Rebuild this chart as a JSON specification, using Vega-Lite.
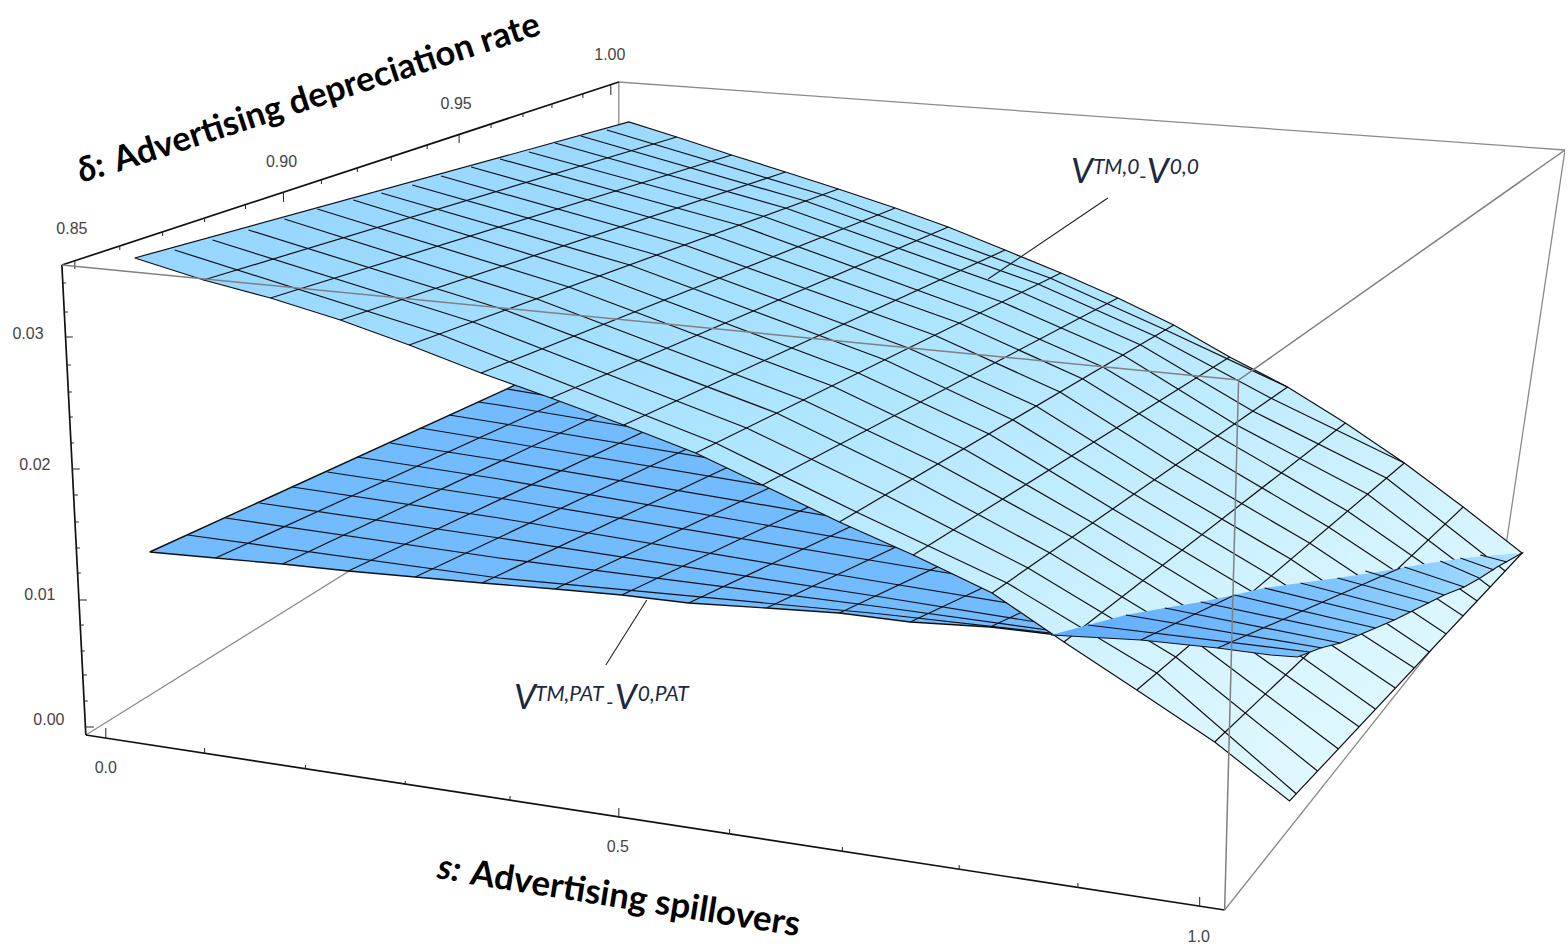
{"$schema":"https://vega.github.io/schema/vega-lite/v6.json","width":1568,"height":949,"autosize":{"type":"fit","contains":"padding"},"padding":0,"background":"white","config":{"view":{"stroke":null}},
"datasets":{
"backBox":[{"line":"a","k":0,"sx":86,"sy":735},{"line":"a","k":1,"sx":620,"sy":403},{"line":"a","k":2,"sx":1507,"sy":558},{"line":"a","k":3,"sx":1227,"sy":910},{"line":"b","k":0,"sx":620,"sy":403},{"line":"b","k":1,"sx":620,"sy":82},{"line":"b","k":2,"sx":1568,"sy":150},{"line":"b","k":3,"sx":1507,"sy":558}],
"axes":[{"line":"d","k":0,"sx":62,"sy":265},{"line":"d","k":1,"sx":620,"sy":82},{"line":"z","k":0,"sx":62,"sy":265},{"line":"z","k":1,"sx":86,"sy":735},{"line":"s","k":0,"sx":86,"sy":735},{"line":"s","k":1,"sx":1227,"sy":910}],
"ticks":[
{"line":"d0","k":0,"sx":75,"sy":261},{"line":"d0","k":1,"sx":75,"sy":269},{"line":"d1","k":0,"sx":120,"sy":246},{"line":"d1","k":1,"sx":120,"sy":250},{"line":"d2","k":0,"sx":163,"sy":232},{"line":"d2","k":1,"sx":163,"sy":236},{"line":"d3","k":0,"sx":205,"sy":218},{"line":"d3","k":1,"sx":205,"sy":222},{"line":"d4","k":0,"sx":246,"sy":205},{"line":"d4","k":1,"sx":246,"sy":209},{"line":"d5","k":0,"sx":284,"sy":192},{"line":"d5","k":1,"sx":284,"sy":202},{"line":"d6","k":0,"sx":322,"sy":180},{"line":"d6","k":1,"sx":322,"sy":184},{"line":"d7","k":0,"sx":358,"sy":168},{"line":"d7","k":1,"sx":358,"sy":172},{"line":"d8","k":0,"sx":392,"sy":157},{"line":"d8","k":1,"sx":392,"sy":161},{"line":"d9","k":0,"sx":428,"sy":145},{"line":"d9","k":1,"sx":428,"sy":149},{"line":"d10","k":0,"sx":460,"sy":135},{"line":"d10","k":1,"sx":460,"sy":143},{"line":"d11","k":0,"sx":492,"sy":124},{"line":"d11","k":1,"sx":492,"sy":128},{"line":"d12","k":0,"sx":524,"sy":113},{"line":"d12","k":1,"sx":524,"sy":117},{"line":"d13","k":0,"sx":553,"sy":104},{"line":"d13","k":1,"sx":553,"sy":108},{"line":"d14","k":0,"sx":584,"sy":94},{"line":"d14","k":1,"sx":584,"sy":98},{"line":"d15","k":0,"sx":612,"sy":85},{"line":"d15","k":1,"sx":612,"sy":95},
{"line":"z1","k":0,"sx":63,"sy":283},{"line":"z1","k":1,"sx":66,"sy":283},{"line":"z2","k":0,"sx":64,"sy":312},{"line":"z2","k":1,"sx":68,"sy":312},{"line":"z3","k":0,"sx":66,"sy":337},{"line":"z3","k":1,"sx":73,"sy":337},{"line":"z4","k":0,"sx":67,"sy":365},{"line":"z4","k":1,"sx":71,"sy":365},{"line":"z5","k":0,"sx":69,"sy":392},{"line":"z5","k":1,"sx":72,"sy":392},{"line":"z6","k":0,"sx":70,"sy":417},{"line":"z6","k":1,"sx":73,"sy":417},{"line":"z7","k":0,"sx":71,"sy":443},{"line":"z7","k":1,"sx":74,"sy":443},{"line":"z8","k":0,"sx":72,"sy":469},{"line":"z8","k":1,"sx":80,"sy":469},{"line":"z9","k":0,"sx":74,"sy":495},{"line":"z9","k":1,"sx":78,"sy":495},{"line":"z10","k":0,"sx":75,"sy":522},{"line":"z10","k":1,"sx":79,"sy":522},{"line":"z11","k":0,"sx":76,"sy":548},{"line":"z11","k":1,"sx":80,"sy":548},{"line":"z12","k":0,"sx":78,"sy":573},{"line":"z12","k":1,"sx":81,"sy":573},{"line":"z13","k":0,"sx":79,"sy":600},{"line":"z13","k":1,"sx":87,"sy":600},{"line":"z14","k":0,"sx":80,"sy":625},{"line":"z14","k":1,"sx":84,"sy":625},{"line":"z15","k":0,"sx":81,"sy":651},{"line":"z15","k":1,"sx":85,"sy":651},{"line":"z16","k":0,"sx":83,"sy":675},{"line":"z16","k":1,"sx":87,"sy":675},{"line":"z17","k":0,"sx":84,"sy":701},{"line":"z17","k":1,"sx":88,"sy":701},{"line":"z18","k":0,"sx":85,"sy":727},{"line":"z18","k":1,"sx":94,"sy":727},
{"line":"s0","k":0,"sx":106,"sy":728},{"line":"s0","k":1,"sx":106,"sy":738},{"line":"s1","k":0,"sx":205,"sy":748},{"line":"s1","k":1,"sx":205,"sy":754},{"line":"s2","k":0,"sx":306,"sy":765},{"line":"s2","k":1,"sx":306,"sy":769},{"line":"s3","k":0,"sx":406,"sy":781},{"line":"s3","k":1,"sx":406,"sy":785},{"line":"s4","k":0,"sx":511,"sy":796},{"line":"s4","k":1,"sx":511,"sy":801},{"line":"s5","k":0,"sx":620,"sy":808},{"line":"s5","k":1,"sx":620,"sy":818},{"line":"s6","k":0,"sx":731,"sy":829},{"line":"s6","k":1,"sx":731,"sy":834},{"line":"s7","k":0,"sx":844,"sy":847},{"line":"s7","k":1,"sx":844,"sy":852},{"line":"s8","k":0,"sx":961,"sy":865},{"line":"s8","k":1,"sx":961,"sy":870},{"line":"s9","k":0,"sx":1080,"sy":883},{"line":"s9","k":1,"sx":1080,"sy":888},{"line":"s10","k":0,"sx":1202,"sy":897},{"line":"s10","k":1,"sx":1202,"sy":907}],
"tickLabels":[{"label":"0.85","sx":72,"sy":229},{"label":"0.90","sx":282,"sy":162},{"label":"0.95","sx":457,"sy":104},{"label":"1.00","sx":611,"sy":55},{"label":"0.03","sx":28,"sy":334},{"label":"0.02","sx":35,"sy":465},{"label":"0.01","sx":40,"sy":595},{"label":"0.00","sx":49,"sy":720},{"label":"0.0","sx":106,"sy":768},{"label":"0.5","sx":619,"sy":847},{"label":"1.0","sx":1201,"sy":937}],
"lowerOutline":[{"k":0,"sx":150,"sy":552},{"k":1,"sx":216,"sy":558},{"k":2,"sx":283,"sy":564},{"k":3,"sx":349,"sy":571},{"k":4,"sx":416,"sy":577},{"k":5,"sx":483,"sy":583},{"k":6,"sx":556,"sy":589},{"k":7,"sx":623,"sy":595},{"k":8,"sx":690,"sy":603},{"k":9,"sx":768,"sy":608},{"k":10,"sx":841,"sy":613},{"k":11,"sx":912,"sy":622},{"k":12,"sx":992,"sy":627},{"k":13,"sx":1052,"sy":634},{"k":14,"sx":1145,"sy":642},{"k":15,"sx":1221,"sy":648},{"k":16,"sx":1300,"sy":656},{"k":17,"sx":1525,"sy":553},{"k":18,"sx":626,"sy":335},{"k":19,"sx":150,"sy":552}],
"lowerMesh":[
{"line":"i1","k":0,"sx":216,"sy":558},{"line":"i1","k":1,"sx":678,"sy":348},{"line":"i2","k":0,"sx":283,"sy":564},{"line":"i2","k":1,"sx":623,"sy":404},{"line":"i3","k":0,"sx":349,"sy":571},{"line":"i3","k":1,"sx":689,"sy":411},{"line":"i4","k":0,"sx":416,"sy":577},{"line":"i4","k":1,"sx":756,"sy":417},{"line":"i5","k":0,"sx":483,"sy":583},{"line":"i5","k":1,"sx":823,"sy":423},{"line":"i6","k":0,"sx":556,"sy":589},{"line":"i6","k":1,"sx":896,"sy":429},{"line":"i7","k":0,"sx":623,"sy":595},{"line":"i7","k":1,"sx":963,"sy":435},{"line":"i8","k":0,"sx":690,"sy":603},{"line":"i8","k":1,"sx":1030,"sy":443},{"line":"i9","k":0,"sx":768,"sy":608},{"line":"i9","k":1,"sx":1108,"sy":448},{"line":"i10","k":0,"sx":841,"sy":613},{"line":"i10","k":1,"sx":1181,"sy":453},{"line":"i11","k":0,"sx":912,"sy":622},{"line":"i11","k":1,"sx":1252,"sy":462},{"line":"i12","k":0,"sx":992,"sy":627},{"line":"i12","k":1,"sx":1332,"sy":467},
{"line":"j1","k":0,"sx":188,"sy":535},{"line":"j1","k":1,"sx":500,"sy":578},{"line":"j1","k":2,"sx":883,"sy":614},{"line":"j1","k":3,"sx":1052,"sy":633},
{"line":"j2","k":0,"sx":226,"sy":518},{"line":"j2","k":1,"sx":500,"sy":558},{"line":"j2","k":2,"sx":883,"sy":607},{"line":"j2","k":3,"sx":1100,"sy":637},
{"line":"j3","k":0,"sx":260,"sy":503},{"line":"j3","k":1,"sx":500,"sy":538},{"line":"j3","k":2,"sx":883,"sy":597},{"line":"j3","k":3,"sx":1100,"sy":632},
{"line":"j4","k":0,"sx":293,"sy":487},{"line":"j4","k":1,"sx":500,"sy":518},{"line":"j4","k":2,"sx":883,"sy":582},{"line":"j4","k":3,"sx":1100,"sy":618},
{"line":"j5","k":0,"sx":328,"sy":472},{"line":"j5","k":1,"sx":500,"sy":498},{"line":"j5","k":2,"sx":883,"sy":562},{"line":"j5","k":3,"sx":1100,"sy":598},
{"line":"j6","k":0,"sx":358,"sy":457},{"line":"j6","k":1,"sx":500,"sy":479},{"line":"j6","k":2,"sx":883,"sy":545},{"line":"j6","k":3,"sx":1100,"sy":581},
{"line":"j7","k":0,"sx":391,"sy":443},{"line":"j7","k":1,"sx":500,"sy":460},{"line":"j7","k":2,"sx":883,"sy":525},{"line":"j7","k":3,"sx":1000,"sy":545},
{"line":"j8","k":0,"sx":421,"sy":428},{"line":"j8","k":1,"sx":500,"sy":441},{"line":"j8","k":2,"sx":883,"sy":505},{"line":"j8","k":3,"sx":1000,"sy":525},
{"line":"j9","k":0,"sx":450,"sy":415},{"line":"j9","k":1,"sx":500,"sy":423},{"line":"j9","k":2,"sx":883,"sy":487},
{"line":"j10","k":0,"sx":479,"sy":402},{"line":"j10","k":1,"sx":500,"sy":405},{"line":"j10","k":2,"sx":883,"sy":469},
{"line":"j11","k":0,"sx":508,"sy":389},{"line":"j11","k":1,"sx":883,"sy":452}],
"upperOutline":[{"k":0,"sx":135,"sy":258},{"k":1,"sx":204,"sy":280},{"k":2,"sx":271,"sy":298},{"k":3,"sx":341,"sy":320},{"k":4,"sx":410,"sy":345},{"k":5,"sx":482,"sy":373},{"k":6,"sx":552,"sy":398},{"k":7,"sx":625,"sy":425},{"k":8,"sx":697,"sy":453},{"k":9,"sx":764,"sy":485},{"k":10,"sx":841,"sy":522},{"k":11,"sx":915,"sy":555},{"k":12,"sx":994,"sy":593},{"k":13,"sx":1066,"sy":642},{"k":14,"sx":1139,"sy":690},{"k":15,"sx":1217,"sy":742},{"k":16,"sx":1292,"sy":801},{"k":17,"sx":1525,"sy":553},{"k":18,"sx":1466,"sy":507},{"k":19,"sx":1407,"sy":463},{"k":20,"sx":1348,"sy":423},{"k":21,"sx":1290,"sy":387},{"k":22,"sx":1232,"sy":357},{"k":23,"sx":1176,"sy":325},{"k":24,"sx":1120,"sy":298},{"k":25,"sx":1063,"sy":273},{"k":26,"sx":1007,"sy":250},{"k":27,"sx":950,"sy":227},{"k":28,"sx":897,"sy":208},{"k":29,"sx":840,"sy":189},{"k":30,"sx":787,"sy":172},{"k":31,"sx":733,"sy":155},{"k":32,"sx":678,"sy":137},{"k":33,"sx":630,"sy":122},{"k":34,"sx":135,"sy":258}],
"upperDelta":[{"line":"1","k":0,"sx":204,"sy":280},{"line":"1","k":1,"sx":678,"sy":137},{"line":"2","k":0,"sx":271,"sy":298},{"line":"2","k":1,"sx":733,"sy":155},{"line":"3","k":0,"sx":341,"sy":320},{"line":"3","k":1,"sx":787,"sy":172},{"line":"4","k":0,"sx":410,"sy":345},{"line":"4","k":1,"sx":840,"sy":189},{"line":"5","k":0,"sx":482,"sy":373},{"line":"5","k":1,"sx":897,"sy":208},{"line":"6","k":0,"sx":552,"sy":398},{"line":"6","k":1,"sx":950,"sy":227},{"line":"7","k":0,"sx":625,"sy":425},{"line":"7","k":1,"sx":1007,"sy":250},{"line":"8","k":0,"sx":697,"sy":453},{"line":"8","k":1,"sx":1063,"sy":273},{"line":"9","k":0,"sx":764,"sy":485},{"line":"9","k":1,"sx":1120,"sy":298},{"line":"10","k":0,"sx":841,"sy":522},{"line":"10","k":1,"sx":1176,"sy":325},{"line":"11","k":0,"sx":915,"sy":555},{"line":"11","k":1,"sx":1232,"sy":357},{"line":"12","k":0,"sx":994,"sy":593},{"line":"12","k":1,"sx":1290,"sy":387},{"line":"13","k":0,"sx":1066,"sy":642},{"line":"13","k":1,"sx":1348,"sy":423},{"line":"14","k":0,"sx":1139,"sy":690},{"line":"14","k":1,"sx":1407,"sy":463},{"line":"15","k":0,"sx":1217,"sy":742},{"line":"15","k":1,"sx":1466,"sy":507}],
"upperSpill":[
{"line":"1","k":0,"sx":175,"sy":250},{"line":"1","k":1,"sx":440,"sy":334},{"line":"1","k":2,"sx":717,"sy":443},{"line":"1","k":3,"sx":858,"sy":512},{"line":"1","k":4,"sx":1009,"sy":583},{"line":"1","k":5,"sx":1159,"sy":673},{"line":"1","k":6,"sx":1299,"sy":794},
{"line":"2","k":0,"sx":213,"sy":240},{"line":"2","k":1,"sx":474,"sy":322},{"line":"2","k":2,"sx":748,"sy":428},{"line":"2","k":3,"sx":887,"sy":495},{"line":"2","k":4,"sx":1030,"sy":568},{"line":"2","k":5,"sx":1178,"sy":657},{"line":"2","k":6,"sx":1320,"sy":771},
{"line":"3","k":0,"sx":249,"sy":230},{"line":"3","k":1,"sx":506,"sy":310},{"line":"3","k":2,"sx":778,"sy":413},{"line":"3","k":3,"sx":914,"sy":479},{"line":"3","k":4,"sx":1052,"sy":553},{"line":"3","k":5,"sx":1197,"sy":641},{"line":"3","k":6,"sx":1341,"sy":749},
{"line":"4","k":0,"sx":285,"sy":219},{"line":"4","k":1,"sx":538,"sy":299},{"line":"4","k":2,"sx":805,"sy":400},{"line":"4","k":3,"sx":940,"sy":464},{"line":"4","k":4,"sx":1074,"sy":537},{"line":"4","k":5,"sx":1216,"sy":624},{"line":"4","k":6,"sx":1362,"sy":727},
{"line":"5","k":0,"sx":318,"sy":209},{"line":"5","k":1,"sx":570,"sy":287},{"line":"5","k":2,"sx":834,"sy":386},{"line":"5","k":3,"sx":966,"sy":449},{"line":"5","k":4,"sx":1095,"sy":523},{"line":"5","k":5,"sx":1235,"sy":608},{"line":"5","k":6,"sx":1378,"sy":709},
{"line":"6","k":0,"sx":354,"sy":200},{"line":"6","k":1,"sx":601,"sy":276},{"line":"6","k":2,"sx":860,"sy":373},{"line":"6","k":3,"sx":991,"sy":434},{"line":"6","k":4,"sx":1115,"sy":509},{"line":"6","k":5,"sx":1255,"sy":592},{"line":"6","k":6,"sx":1398,"sy":688},
{"line":"7","k":0,"sx":382,"sy":193},{"line":"7","k":1,"sx":631,"sy":265},{"line":"7","k":2,"sx":887,"sy":360},{"line":"7","k":3,"sx":1015,"sy":420},{"line":"7","k":4,"sx":1136,"sy":494},{"line":"7","k":5,"sx":1274,"sy":576},{"line":"7","k":6,"sx":1417,"sy":668},
{"line":"8","k":0,"sx":413,"sy":185},{"line":"8","k":1,"sx":658,"sy":255},{"line":"8","k":2,"sx":910,"sy":348},{"line":"8","k":3,"sx":1038,"sy":406},{"line":"8","k":4,"sx":1157,"sy":480},{"line":"8","k":5,"sx":1293,"sy":559},{"line":"8","k":6,"sx":1432,"sy":652},
{"line":"9","k":0,"sx":442,"sy":176},{"line":"9","k":1,"sx":686,"sy":245},{"line":"9","k":2,"sx":936,"sy":335},{"line":"9","k":3,"sx":1062,"sy":392},{"line":"9","k":4,"sx":1178,"sy":465},{"line":"9","k":5,"sx":1312,"sy":543},{"line":"9","k":6,"sx":1449,"sy":634},
{"line":"10","k":0,"sx":472,"sy":167},{"line":"10","k":1,"sx":714,"sy":235},{"line":"10","k":2,"sx":961,"sy":323},{"line":"10","k":3,"sx":1085,"sy":379},{"line":"10","k":4,"sx":1200,"sy":450},{"line":"10","k":5,"sx":1331,"sy":527},{"line":"10","k":6,"sx":1466,"sy":616},
{"line":"11","k":0,"sx":501,"sy":159},{"line":"11","k":1,"sx":740,"sy":225},{"line":"11","k":2,"sx":982,"sy":313},{"line":"11","k":3,"sx":1105,"sy":367},{"line":"11","k":4,"sx":1220,"sy":436},{"line":"11","k":5,"sx":1350,"sy":511},{"line":"11","k":6,"sx":1480,"sy":601},
{"line":"12","k":0,"sx":530,"sy":152},{"line":"12","k":1,"sx":764,"sy":216},{"line":"12","k":2,"sx":1004,"sy":302},{"line":"12","k":3,"sx":1125,"sy":355},{"line":"12","k":4,"sx":1237,"sy":424},{"line":"12","k":5,"sx":1370,"sy":494},{"line":"12","k":6,"sx":1493,"sy":587},
{"line":"13","k":0,"sx":556,"sy":143},{"line":"13","k":1,"sx":787,"sy":208},{"line":"13","k":2,"sx":1023,"sy":292},{"line":"13","k":3,"sx":1143,"sy":345},{"line":"13","k":4,"sx":1255,"sy":411},{"line":"13","k":5,"sx":1389,"sy":478},{"line":"13","k":6,"sx":1508,"sy":571},
{"line":"14","k":0,"sx":582,"sy":136},{"line":"14","k":1,"sx":807,"sy":201},{"line":"14","k":2,"sx":1040,"sy":284},{"line":"14","k":3,"sx":1157,"sy":336},{"line":"14","k":4,"sx":1273,"sy":398},{"line":"14","k":5,"sx":1407,"sy":463},
{"line":"15","k":0,"sx":608,"sy":130},{"line":"15","k":1,"sx":825,"sy":195},{"line":"15","k":2,"sx":1052,"sy":278},{"line":"15","k":3,"sx":1168,"sy":330},{"line":"15","k":4,"sx":1290,"sy":387}],
"sliverFill":[{"k":0,"sx":1053,"sy":635},{"k":1,"sx":1128,"sy":615},{"k":2,"sx":1167,"sy":608},{"k":3,"sx":1203,"sy":602},{"k":4,"sx":1237,"sy":595},{"k":5,"sx":1267,"sy":588},{"k":6,"sx":1303,"sy":583},{"k":7,"sx":1340,"sy":578},{"k":8,"sx":1380,"sy":572},{"k":9,"sx":1433,"sy":563},{"k":10,"sx":1467,"sy":558},{"k":11,"sx":1500,"sy":555},{"k":12,"sx":1525,"sy":553},{"k":13,"sx":1500,"sy":567},{"k":14,"sx":1483,"sy":578},{"k":15,"sx":1467,"sy":587},{"k":16,"sx":1447,"sy":595},{"k":17,"sx":1397,"sy":620},{"k":18,"sx":1343,"sy":643},{"k":19,"sx":1323,"sy":648},{"k":20,"sx":1300,"sy":657},{"k":21,"sx":1273,"sy":655},{"k":22,"sx":1220,"sy":648},{"k":23,"sx":1143,"sy":640},{"k":24,"sx":1053,"sy":635}],
"sliverMesh":[
{"line":"edge","k":0,"sx":1053,"sy":635},{"line":"edge","k":1,"sx":1143,"sy":640},{"line":"edge","k":2,"sx":1220,"sy":648},{"line":"edge","k":3,"sx":1273,"sy":655},{"line":"edge","k":4,"sx":1300,"sy":657},{"line":"edge","k":5,"sx":1323,"sy":648},{"line":"edge","k":6,"sx":1343,"sy":643},{"line":"edge","k":7,"sx":1397,"sy":620},{"line":"edge","k":8,"sx":1447,"sy":595},{"line":"edge","k":9,"sx":1467,"sy":587},{"line":"edge","k":10,"sx":1483,"sy":578},{"line":"edge","k":11,"sx":1500,"sy":567},{"line":"edge","k":12,"sx":1525,"sy":553},
{"line":"u1","k":0,"sx":1143,"sy":640},{"line":"u1","k":1,"sx":1237,"sy":595},{"line":"u2","k":0,"sx":1220,"sy":648},{"line":"u2","k":1,"sx":1403,"sy":568},
{"line":"v1","k":0,"sx":1483,"sy":555},{"line":"v1","k":1,"sx":1510,"sy":562},{"line":"v2","k":0,"sx":1463,"sy":558},{"line":"v2","k":1,"sx":1497,"sy":570},{"line":"v3","k":0,"sx":1443,"sy":561},{"line":"v3","k":1,"sx":1482,"sy":578},{"line":"v4","k":0,"sx":1407,"sy":567},{"line":"v4","k":1,"sx":1467,"sy":587},{"line":"v5","k":0,"sx":1368,"sy":571},{"line":"v5","k":1,"sx":1447,"sy":595},{"line":"v6","k":0,"sx":1340,"sy":578},{"line":"v6","k":1,"sx":1432,"sy":603},{"line":"v7","k":0,"sx":1303,"sy":583},{"line":"v7","k":1,"sx":1413,"sy":612},{"line":"v8","k":0,"sx":1267,"sy":588},{"line":"v8","k":1,"sx":1397,"sy":620},{"line":"v9","k":0,"sx":1237,"sy":595},{"line":"v9","k":1,"sx":1378,"sy":628},{"line":"v10","k":0,"sx":1203,"sy":602},{"line":"v10","k":1,"sx":1360,"sy":635},{"line":"v11","k":0,"sx":1167,"sy":608},{"line":"v11","k":1,"sx":1343,"sy":643},{"line":"v12","k":0,"sx":1128,"sy":615},{"line":"v12","k":1,"sx":1325,"sy":648},{"line":"v13","k":0,"sx":1090,"sy":625},{"line":"v13","k":1,"sx":1312,"sy":652}],
"frontBox":[{"line":"a","k":0,"sx":62,"sy":265},{"line":"a","k":1,"sx":1241,"sy":380},{"line":"a","k":2,"sx":1568,"sy":150},{"line":"b","k":0,"sx":1241,"sy":380},{"line":"b","k":1,"sx":1227,"sy":910}],
"leaders":[{"line":"upper","k":0,"sx":1110,"sy":198},{"line":"upper","k":1,"sx":990,"sy":279},{"line":"lower","k":0,"sx":648,"sy":600},{"line":"lower","k":1,"sx":607,"sy":665}],
"bigV":[{"label":"V","sx":1084,"sy":183},{"label":"V","sx":1160,"sy":183},{"label":"V","sx":526,"sy":709},{"label":"V","sx":627,"sy":709}],
"sup":[{"label":"TM,0","sx":1095,"sy":174},{"label":"0,0","sx":1172,"sy":174},{"label":"TM,PAT","sx":536,"sy":701},{"label":"0,PAT","sx":639,"sy":701}],
"dash":[{"label":"-","sx":1145,"sy":184},{"label":"-","sx":611,"sy":710}],
"title1":[{"label":"Advertising depreciation rate","sx":118,"sy":172}],
"title1sym":[{"label":"δ:","sx":82,"sy":183}],
"title2":[{"label":"Advertising spillovers","sx":470,"sy":884}],
"title2sym":[{"label":"s:","sx":437,"sy":878}]
},
"encoding":{"x":{"field":"sx","type":"quantitative","axis":null,"scale":{"domain":[0,1568],"nice":false,"zero":false}},"y":{"field":"sy","type":"quantitative","axis":null,"scale":{"domain":[0,949],"nice":false,"zero":false,"reverse":true}}},
"layer":[
{"data":{"name":"backBox"},"mark":{"type":"line","stroke":"#8a8a8a","strokeWidth":1.3,"clip":true},"encoding":{"detail":{"field":"line"},"order":{"field":"k"}}},
{"data":{"name":"axes"},"mark":{"type":"line","stroke":"#111111","strokeWidth":1.7},"encoding":{"detail":{"field":"line"},"order":{"field":"k"}}},
{"data":{"name":"ticks"},"mark":{"type":"line","stroke":"#222222","strokeWidth":1},"encoding":{"detail":{"field":"line"},"order":{"field":"k"}}},
{"data":{"name":"tickLabels"},"mark":{"type":"text","font":"Liberation Sans","fontSize":16,"fill":"#444444","align":"center","baseline":"middle"},"encoding":{"text":{"field":"label"}}},
{"data":{"name":"lowerOutline"},"mark":{"type":"line","fill":"#72bbff","stroke":"#111111","strokeWidth":1.4},"encoding":{"order":{"field":"k"}}},
{"data":{"name":"lowerMesh"},"mark":{"type":"line","stroke":"#111111","strokeWidth":1.2},"encoding":{"detail":{"field":"line"},"order":{"field":"k"}}},
{"data":{"name":"upperOutline"},"mark":{"type":"line","fill":{"gradient":"linear","x1":0,"y1":0,"x2":1,"y2":1,"stops":[{"offset":0,"color":"#8fd1ff"},{"offset":0.45,"color":"#aee5ff"},{"offset":0.8,"color":"#d8f5ff"},{"offset":1,"color":"#e6faff"}]},"stroke":"#111111","strokeWidth":1.2},"encoding":{"order":{"field":"k"}}},
{"data":{"name":"upperDelta"},"mark":{"type":"line","stroke":"#111111","strokeWidth":1.2},"encoding":{"detail":{"field":"line"},"order":{"field":"k"}}},
{"data":{"name":"upperSpill"},"mark":{"type":"line","stroke":"#111111","strokeWidth":1.2},"encoding":{"detail":{"field":"line"},"order":{"field":"k"}}},
{"data":{"name":"sliverFill"},"mark":{"type":"line","fill":{"gradient":"linear","x1":0,"y1":0,"x2":1,"y2":0,"stops":[{"offset":0,"color":"#5fabff"},{"offset":0.45,"color":"#74bcff"},{"offset":0.8,"color":"#90d0ff"},{"offset":1,"color":"#aee0ff"}]},"stroke":null,"strokeWidth":0},"encoding":{"order":{"field":"k"}}},
{"data":{"name":"sliverMesh"},"mark":{"type":"line","stroke":"#111111","strokeWidth":1.2},"encoding":{"detail":{"field":"line"},"order":{"field":"k"}}},
{"data":{"name":"frontBox"},"mark":{"type":"line","stroke":"#808080","strokeWidth":1.5},"encoding":{"detail":{"field":"line"},"order":{"field":"k"}}},
{"data":{"name":"leaders"},"mark":{"type":"line","stroke":"#222222","strokeWidth":1.1},"encoding":{"detail":{"field":"line"},"order":{"field":"k"}}},
{"data":{"name":"bigV"},"mark":{"type":"text","font":"Lato","fontStyle":"italic","fontSize":35,"fill":"#1c2740","align":"center","baseline":"alphabetic"},"encoding":{"text":{"field":"label"}}},
{"data":{"name":"sup"},"mark":{"type":"text","font":"Lato","fontStyle":"italic","fontSize":21,"fill":"#1c2740","align":"left","baseline":"alphabetic"},"encoding":{"text":{"field":"label"}}},
{"data":{"name":"dash"},"mark":{"type":"text","font":"Lato","fontStyle":"italic","fontSize":22,"fill":"#1c2740","align":"center","baseline":"alphabetic"},"encoding":{"text":{"field":"label"}}},
{"data":{"name":"title1"},"mark":{"type":"text","font":"Lato","fontWeight":"bold","fontSize":34.5,"fill":"#000000","align":"left","baseline":"alphabetic","angle":342},"encoding":{"text":{"field":"label"}}},
{"data":{"name":"title1sym"},"mark":{"type":"text","font":"Lato","fontWeight":"bold","fontStyle":"italic","fontSize":34.5,"fill":"#000000","align":"left","baseline":"alphabetic","angle":342},"encoding":{"text":{"field":"label"}}},
{"data":{"name":"title2"},"mark":{"type":"text","font":"Lato","fontWeight":"bold","fontSize":35,"fill":"#000000","align":"left","baseline":"alphabetic","angle":9},"encoding":{"text":{"field":"label"}}},
{"data":{"name":"title2sym"},"mark":{"type":"text","font":"Lato","fontWeight":"bold","fontStyle":"italic","fontSize":35,"fill":"#000000","align":"left","baseline":"alphabetic","angle":9},"encoding":{"text":{"field":"label"}}}
]}
